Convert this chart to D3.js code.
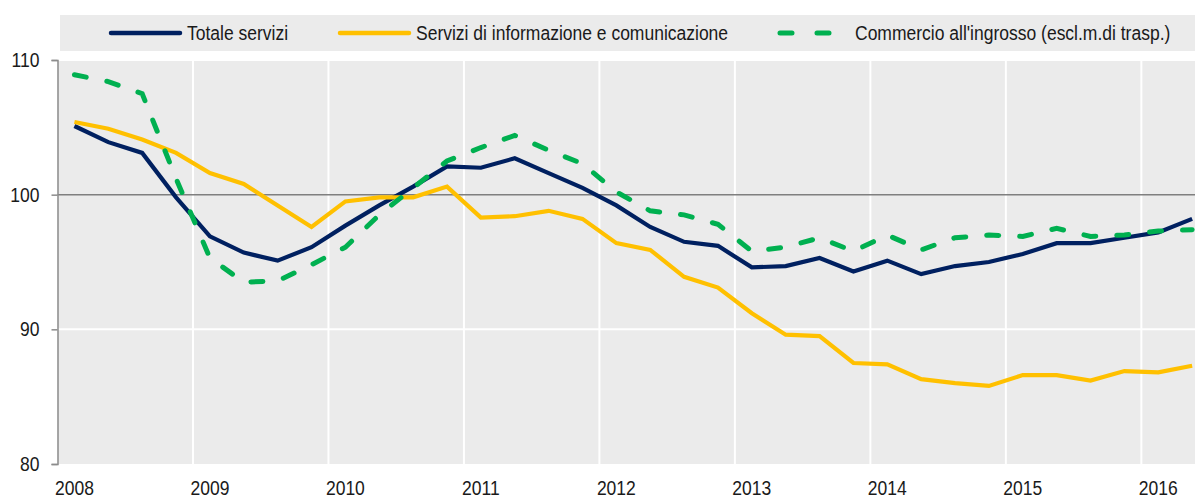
<!DOCTYPE html>
<html>
<head>
<meta charset="utf-8">
<script src="https://cdn.jsdelivr.net/npm/d3@7"></script>
<style>
  html, body { margin: 0; padding: 0; background: #ffffff; }
  svg { display: block; }
  text { font-family: "Liberation Sans", Arial, sans-serif; fill: #1a1a1a; }
</style>
</head>
<body>
<svg id="chart" width="1195" height="498"></svg>
<script>
// ---- data ----
const years = ["2008", "2009", "2010", "2011", "2012", "2013", "2014", "2015", "2016"];
const quarters = years.flatMap(y => ["T1", "T2", "T3", "T4"].map(q => y + q)).slice(0, 34);

const totaleServizi = [105.1, 103.9, 103.1, 99.8, 96.9, 95.7, 95.1, 96.1, 97.7, 99.2, 100.6, 102.1,
  102.0, 102.7, 101.6, 100.5, 99.2, 97.6, 96.5, 96.2, 94.6, 94.7, 95.3, 94.3,
  95.1, 94.1, 94.7, 95.0, 95.6, 96.4, 96.4, 96.8, 97.2, 98.2];

const serviziInfo = [105.4, 104.9, 104.1, 103.1, 101.6, 100.8, 99.2, 97.6, 99.5, 99.8, 99.8, 100.6,
  98.3, 98.4, 98.8, 98.2, 96.4, 95.9, 93.9, 93.1, 91.2, 89.6, 89.5, 87.5,
  87.4, 86.3, 86.0, 85.8, 86.6, 86.6, 86.2, 86.9, 86.8, 87.3];

const commercio = [108.9, 108.4, 107.5, 101.2, 95.3, 93.5, 93.6, 94.8, 96.1, 98.5, 100.5, 102.5,
  103.5, 104.4, 103.3, 102.3, 100.2, 98.8, 98.5, 97.8, 95.8, 96.1, 96.8, 95.8,
  97.0, 95.9, 96.8, 97.0, 96.9, 97.5, 96.9, 97.0, 97.3, 97.4];

const yTicks = [80, 90, 100, 110];

const seriesNames = ["Totale servizi", "Servizi di informazione e comunicazione", "Commercio all'ingrosso (escl.m.di trasp.)"];

// ---- layout ----
const svg = d3.select("#chart");
const plotLeft = 57.5, plotTop = 60, plotBottom = 464;
const bandW = 33.87;
const narrow = 0.875; // emulate a condensed (Arial Narrow-like) face

const x = d3.scaleBand().domain(quarters).range([plotLeft, plotLeft + bandW * quarters.length]).paddingInner(0).paddingOuter(0);
const xc = q => x(q) + x.bandwidth() / 2;
const y = d3.scaleLinear().domain([80, 110]).range([plotBottom, plotTop]);

const colors = { tot: "#002060", info: "#FFC000", comm: "#00B050" };
const fontSize = 20;

function condense(sel) {
  sel.each(function () {
    const w = this.getComputedTextLength();
    d3.select(this).attr("textLength", w * narrow).attr("lengthAdjust", "spacingAndGlyphs");
  });
}

// plot background
svg.append("rect")
  .attr("x", plotLeft).attr("y", plotTop)
  .attr("width", x.range()[1] - plotLeft).attr("height", plotBottom - plotTop)
  .attr("fill", "#EBEBEB");

// horizontal white gridlines
svg.append("g").selectAll("line")
  .data(yTicks.filter(t => t !== 100 && t !== 80))
  .join("line")
  .attr("x1", plotLeft).attr("x2", x.range()[1])
  .attr("y1", d => y(d)).attr("y2", d => y(d))
  .attr("stroke", "#ffffff").attr("stroke-width", 2);

// vertical white gridlines at year boundaries
svg.append("g").selectAll("line")
  .data(years.slice(1))
  .join("line")
  .attr("x1", d => x(d + "T1")).attr("x2", d => x(d + "T1"))
  .attr("y1", plotTop).attr("y2", plotBottom)
  .attr("stroke", "#ffffff").attr("stroke-width", 2);

// line at 100
svg.append("line")
  .attr("x1", plotLeft).attr("x2", x.range()[1])
  .attr("y1", y(100)).attr("y2", y(100))
  .attr("stroke", "#7F7F7F").attr("stroke-width", 1.5);

// y axis
const yAxis = d3.axisLeft(y).tickValues(yTicks).tickSize(6).tickPadding(12).tickFormat(d3.format("d"));
const gy = svg.append("g").attr("transform", `translate(${plotLeft},0)`).call(yAxis);
gy.select(".domain").attr("stroke", "#8C8C8C").attr("stroke-width", 1.5);
gy.selectAll(".tick line").attr("stroke", "#8C8C8C").attr("stroke-width", 1.5);
gy.selectAll(".tick text")
  .style("font-family", '"Liberation Sans", Arial, sans-serif')
  .style("font-size", fontSize + "px").attr("fill", "#1a1a1a")
  .call(condense);

// x labels (years at first quarter)
const xAxis = d3.axisBottom(x)
  .tickValues(years.map(yv => yv + "T1"))
  .tickFormat(d => d.slice(0, 4))
  .tickSize(0).tickPadding(0);
const gx = svg.append("g").attr("transform", `translate(0,${plotBottom})`).call(xAxis);
gx.select(".domain").remove();
gx.selectAll(".tick text")
  .attr("dy", null).attr("y", 31)
  .style("font-family", '"Liberation Sans", Arial, sans-serif')
  .style("font-size", fontSize + "px").attr("fill", "#1a1a1a")
  .call(condense);

// lines
const line = d3.line().x((d, i) => xc(quarters[i])).y(d => y(d));

svg.append("path").datum(totaleServizi)
  .attr("d", line).attr("fill", "none")
  .attr("stroke", colors.tot).attr("stroke-width", 4.2).attr("stroke-linejoin", "miter");

svg.append("path").datum(serviziInfo)
  .attr("d", line).attr("fill", "none")
  .attr("stroke", colors.info).attr("stroke-width", 4.2).attr("stroke-linejoin", "miter");

svg.append("path").datum(commercio)
  .attr("d", line).attr("fill", "none")
  .attr("stroke", colors.comm).attr("stroke-width", 5).attr("stroke-linecap", "round")
  .attr("stroke-dasharray", "12,21");

// legend
const leg = svg.append("g");
leg.append("rect").attr("x", 60).attr("y", 15).attr("width", 1135).attr("height", 36).attr("fill", "#EBEBEB");
const legItems = [
  { name: seriesNames[0], color: colors.tot, x1: 111, x2: 180, tx: 187, dash: null },
  { name: seriesNames[1], color: colors.info, x1: 340, x2: 409, tx: 416, dash: null },
  { name: seriesNames[2], color: colors.comm, x1: 778, x2: 832, tx: 855, dash: "12,25" }
];
legItems.forEach(it => {
  const l = leg.append("line")
    .attr("x1", it.x1).attr("x2", it.x2).attr("y1", 33).attr("y2", 33)
    .attr("stroke", it.color).attr("stroke-width", it.dash ? 5 : 4.5);
  if (it.dash) l.attr("stroke-dasharray", it.dash).attr("stroke-linecap", "round").attr("x1", it.x1 + 2).attr("x2", it.x2);
  else l.attr("stroke-linecap", "round");
  leg.append("g")
    .attr("transform", `translate(${it.tx},33) scale(${narrow},1)`)
    .append("text").attr("x", 0).attr("y", 0).attr("dy", "0.35em")
    .style("font-size", fontSize + "px").text(it.name);
});
</script>
</body>
</html>
